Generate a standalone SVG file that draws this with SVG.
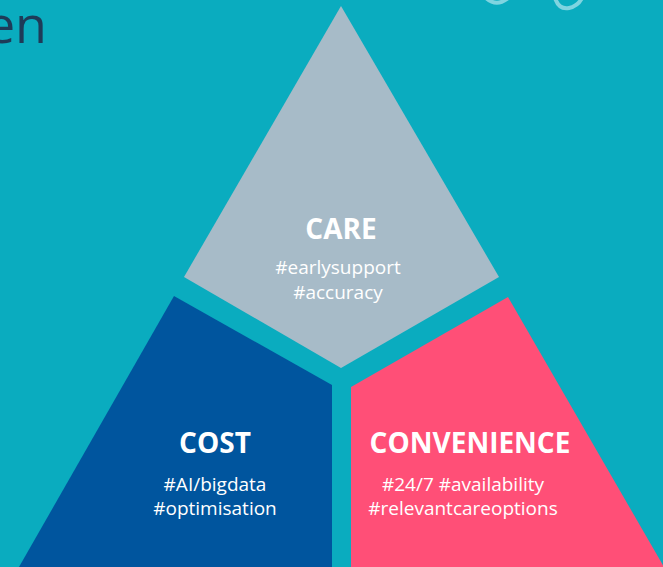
<svg xmlns="http://www.w3.org/2000/svg" width="663" height="567" viewBox="0 0 663 567">
  <style>
    .title { font-family: "Open Sans", "Liberation Sans", sans-serif; font-weight: 700; font-size: 28px; fill: #ffffff; text-anchor: middle; }
    .tag { font-family: "Open Sans", "Liberation Sans", sans-serif; font-weight: 400; font-size: 19px; fill: #ffffff; text-anchor: middle; }
    .heading { font-family: "Open Sans", "Liberation Sans", sans-serif; font-weight: 400; font-size: 52px; fill: #1e3b58; }
    .scribble { fill: none; stroke: #7fd4e0; stroke-width: 4; stroke-linecap: round; }
  </style>

  <!-- backdrop -->
  <rect x="0" y="0" width="663" height="567" fill="#0aacbf"/>

  <!-- heading fragment, cropped at the left edge -->
  <text class="heading" x="47" y="43" text-anchor="end">en</text>

  <!-- decorative handwriting strokes at the top edge -->
  <path class="scribble" d="M486,-2 Q496,7 507,-1"/>
  <path class="scribble" d="M555,-2 Q559,10 569,8 Q578,6 582,-2"/>

  <!-- top segment -->
  <g id="care">
    <polygon points="341,6 499,277 341,368 184,277" fill="#a7bbc8"/>
    <text class="title" x="341" y="239">CARE</text>
    <text class="tag" x="338" y="274">#earlysupport</text>
    <text class="tag" x="338" y="299">#accuracy</text>
  </g>

  <!-- lower left segment -->
  <g id="cost">
    <polygon points="174,296 332,385 332,567 19,567" fill="#00559e"/>
    <text class="title" x="215" y="453">COST</text>
    <text class="tag" x="215" y="491">#AI/bigdata</text>
    <text class="tag" x="215" y="515">#optimisation</text>
  </g>

  <!-- lower right segment -->
  <g id="convenience">
    <polygon points="508,297 664,567 351,567 351,387" fill="#ff4f77"/>
    <text class="title" x="470" y="453">CONVENIENCE</text>
    <text class="tag" x="463" y="491">#24/7 #availability</text>
    <text class="tag" x="463" y="515">#relevantcareoptions</text>
  </g>

  <g id="connectors"/>
</svg>
